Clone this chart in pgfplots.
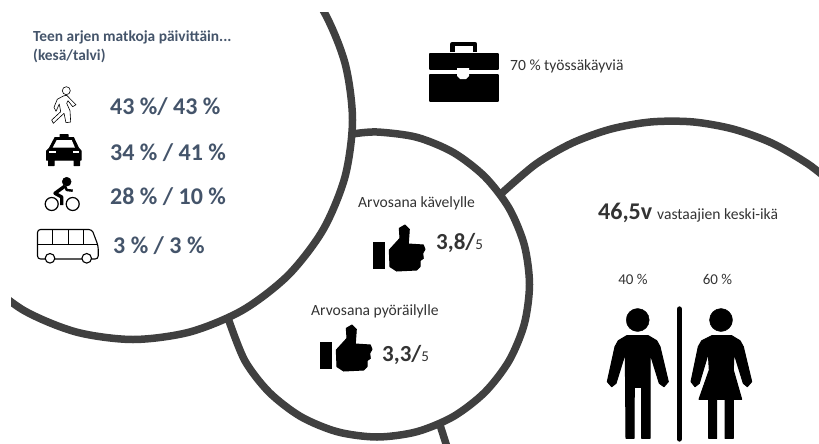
\documentclass[border=0pt]{standalone}
\usepackage{fontspec}
\setmainfont{Carlito}
\usepackage{pgfplots}
\pgfplotsset{compat=1.18}
\definecolor{ring}{HTML}{404040}
\definecolor{slate}{HTML}{44546A}
\definecolor{txt}{HTML}{333333}
\tikzset{
  lbl/.style={anchor=west,inner sep=0pt,text=txt,font=\fontsize{15.6}{18}\selectfont},
  stat/.style={anchor=west,inner sep=0pt,text=slate,font=\fontsize{24}{28}\selectfont\bfseries},
}
\pgfplotsset{
  blk/.style={fill=black,draw=black,line width=1pt,line join=round,mark=none},
  ringarc/.style={draw=ring,line width=7.5pt,smooth,mark=none},
  dot/.style={only marks,mark=*,mark size=#1,mark options={fill=black,draw=black}},
}
\begin{document}
\begin{tikzpicture}
\begin{axis}[
  scale only axis,
  width=819pt,
  height=444pt,
  xmin=0, xmax=819,
  ymin=0, ymax=444,
  y dir=reverse,
  hide axis,
]
% rings
\addplot[ringarc] coordinates {(440,425) (448,450)};
\addplot[ringarc] coordinates {(501.8,193.1) (536.1,163.9) (571.8,143.2) (610.7,129.1) (651.3,121.9)
  (692.7,121.9) (733.3,129.1) (772.2,143.2) (807.9,163.9) (830.6,181.9)};
\addplot[ringarc] coordinates {(353.1,133.9) (377,132) (416.5,137.2) (453.25,152.4) (484.8,176.7) (509.1,208.25)
  (524.3,245) (529.5,284.5) (524.3,324) (509.1,360.75) (484.8,392.3) (453.25,416.6) (416.5,431.8)
  (377,437) (337.5,431.8) (300.75,416.6) (269.2,392.3) (244.9,360.75) (228.6,319.8)};
\addplot[ringarc] coordinates {(288.2,-35.2) (323.1,10.25) (345,63.2) (352.5,120) (345,176.8) (323.1,229.75)
  (288.2,275.2) (242.75,310.1) (189.8,332) (133,339.5) (76.2,332) (23.25,310.1) (-22.2,275.2)};
% the picture is cropped at these edges
\addplot[fill=white,draw=none] coordinates {(280,0) (350,0) (350,12) (280,12)} --cycle;
\addplot[fill=white,draw=none] coordinates {(0,270) (11,270) (11,330) (0,330)} --cycle;

% heading
\node[lbl,text=slate,font=\fontsize{15.4}{18}\selectfont\bfseries] at (axis cs:33,37) {Teen arjen matkoja päivittäin...};
\node[lbl,text=slate,font=\fontsize{15.4}{18}\selectfont\bfseries] at (axis cs:33,56) {(kesä/talvi)};
\node[stat] at (axis cs:110,107) {43 \%/ 43 \%};
\node[stat] at (axis cs:110,153) {34 \% / 41 \%};
\node[stat] at (axis cs:110,197) {28 \% / 10 \%};
\node[stat] at (axis cs:113,246) {3 \% / 3 \%};

% walker
\addplot[draw=black,line width=0.6pt,fill=white,line join=round,mark=none] coordinates {(63.3,96) (57.3,99.3) (54,107.3) (56,111.3) (59.3,104)
  (60.7,111.7) (51.7,120) (53.3,123.3) (64,113.3) (66,122.7) (70.7,122) (70,110.7) (66.7,103.3) (68,100.7)
  (72.7,106.7) (76,104.7) (70,98.7) (66.7,95.3)} --cycle;
\addplot[only marks,mark=*,mark size=4pt,mark options={fill=white,draw=black,line width=0.6pt}] coordinates {(66.3,90.7)};

% taxi
\addplot[blk] coordinates {(60,134.5) (68,134.5) (68,137.5) (73.5,137.5) (78.5,148) (81.2,151) (81.2,160) (79.5,160)
  (79.5,165.5) (74,165.5) (74,160) (54,160) (54,165.5) (48.5,165.5) (48.5,160) (46.5,160) (46.5,151) (49.5,148)
  (55,137.5) (60,137.5)} --cycle;
\addplot[fill=white,draw=none] coordinates {(56.7,140) (71.7,140) (75,147.7) (52.7,147.7)} --cycle;
\addplot[fill=white,draw=none] coordinates {(49.3,150.7) (56,150.7) (56,153.3) (49.3,153.3)} --cycle;
\addplot[fill=white,draw=none] coordinates {(72.7,150.7) (79.3,150.7) (79.3,153.3) (72.7,153.3)} --cycle;

% cyclist
\addplot[only marks,mark=*,mark size=6.5pt,mark options={fill=white,draw=black,line width=1.2pt}] coordinates {(51.7,204) (72.7,204)};
\addplot[draw=black,line width=3.4pt,line join=round,mark=none] coordinates {(65,186) (55,193.3) (61.7,197) (61.7,205)};
\addplot[draw=black,line width=2.4pt,line join=round,mark=none] coordinates {(65,186) (66.7,190) (72.7,190.7)};
\addplot[dot=4.5pt] coordinates {(66.7,181.7)};

% bus
\addplot[draw=black,line width=1.1pt,rounded corners=3pt,mark=none] coordinates {(37.5,229.5) (92,229.5) (98.2,246) (98.2,259) (37.5,259)} --cycle;
\addplot[draw=black,line width=1.1pt,mark=none] coordinates {(37.5,244.5) (98,244.5)};
\addplot[draw=black,line width=1.1pt,mark=none] coordinates {(52.7,229.5) (52.7,244.5)};
\addplot[draw=black,line width=1.1pt,mark=none] coordinates {(68.3,229.5) (68.3,244.5)};
\addplot[draw=black,line width=1.1pt,mark=none] coordinates {(83.3,229.5) (83.3,244.5)};
\addplot[only marks,mark=*,mark size=4.8pt,mark options={fill=white,draw=black,line width=1.1pt}] coordinates {(50,258.3) (86.7,258.3)};

% briefcase
\addplot[draw=black,line width=4.5pt,line join=round,mark=none] coordinates {(452.5,52) (452.5,44) (475,44) (475,52)};
\addplot[blk,line width=2pt] coordinates {(429.5,53.5) (498,53.5) (498,69) (429.5,69)} --cycle;
\addplot[blk,line width=2pt] coordinates {(429.5,75) (498,75) (498,101) (429.5,101)} --cycle;
\addplot[fill=white,draw=none] coordinates {(457,68) (469,68) (469,76) (466,79) (460,79) (457,76)} --cycle;
\node[lbl] at (axis cs:510,66) {70 \% työssäkäyviä};

% ratings
\node[lbl] at (axis cs:358,203) {Arvosana kävelylle};
\addplot[blk] coordinates {(373.2,242.2) (384.5,242.2) (384.5,268.5) (373.2,268.5)} --cycle;
\addplot[blk] coordinates {(389.3,250) (400,238.3) (399.3,228.3) (405,225) (409.3,229.3) (408.3,244) (423.3,245)
  (425,249.3) (422.7,253.3) (423.3,258.3) (420,260.7) (420,266.7) (416.7,270) (396.7,271) (390,266.7)} --cycle;
\node[anchor=west,inner sep=0pt,text=txt,font=\fontsize{23}{27}\selectfont\bfseries] at (axis cs:436,243) {3,8/{\fontsize{15}{17}\selectfont\mdseries 5}};

\node[lbl] at (axis cs:311,311) {Arvosana pyöräilylle};
\addplot[blk] coordinates {(320.2,342.2) (331.5,342.2) (331.5,368.5) (320.2,368.5)} --cycle;
\addplot[blk] coordinates {(336.3,350) (347,338.3) (346.3,328.3) (352,325) (356.3,329.3) (355.3,344) (370.3,345)
  (372,349.3) (369.7,353.3) (370.3,358.3) (367,360.7) (367,366.7) (363.7,370) (343.7,371) (337,366.7)} --cycle;
\node[anchor=west,inner sep=0pt,text=txt,font=\fontsize{23}{27}\selectfont\bfseries] at (axis cs:382,355) {3,3/{\fontsize{15}{17}\selectfont\mdseries 5}};

% age and gender
\node[anchor=west,inner sep=0pt,text=txt,font=\fontsize{24}{28}\selectfont\bfseries] at (axis cs:598,213) {46,5v};
\node[lbl] at (axis cs:657,215) {vastaajien keski-ikä};
\node[lbl,anchor=center,font=\fontsize{15}{17}\selectfont] at (axis cs:633,279) {40 \%};
\node[lbl,anchor=center,font=\fontsize{15}{17}\selectfont] at (axis cs:717.5,279) {60 \%};
\addplot[dot=11.5pt] coordinates {(637.7,320) (721,320)};
\addplot[blk] coordinates {(626.7,335.7) (618.3,340.7) (615,346.7) (607.3,381.7) (611.7,386.7) (616,383.3)
  (625.3,353.3) (626,438.3) (634,438.3) (634.3,387.3) (641.7,387.3) (641.7,438.3) (650,438.3) (650,353.3)
  (659.3,383.3) (664,386.7) (668.3,381.7) (660,346.7) (656.7,340.7) (648.3,335.7)} --cycle;
\addplot[blk] coordinates {(711.7,335.7) (701.7,340.7) (698.3,346.7) (691,381.7) (695,386.7) (699.3,383.3)
  (708.3,353.3) (709.3,370) (699,399.3) (708.7,399.3) (708.7,438.3) (716.7,438.3) (716.7,399.3) (725,399.3)
  (725,438.3) (733.3,438.3) (733.3,399.3) (741.7,399.3) (733.3,370) (734,353.3) (743.3,383.3) (747.3,386.7)
  (751.7,381.7) (743.3,346.7) (740,340.7) (731.7,335.7)} --cycle;
\addplot[draw=black,line width=5.3pt,line cap=round,mark=none] coordinates {(679.3,309) (679.3,439)};
\end{axis}
\end{tikzpicture}
\end{document}
